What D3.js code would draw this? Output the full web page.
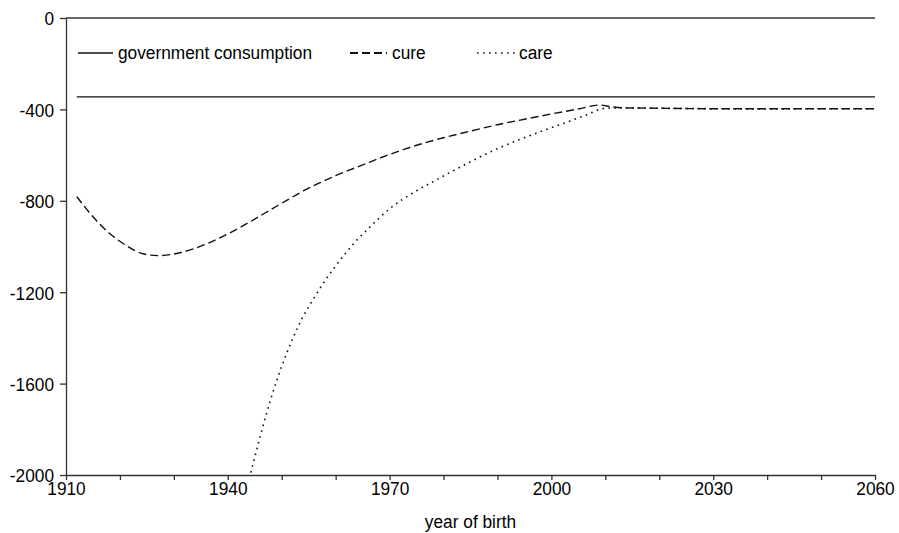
<!DOCTYPE html>
<html>
<head>
<meta charset="utf-8">
<script src="https://cdn.jsdelivr.net/npm/d3@7"></script>
<style>
  body { margin: 0; background: #fff; }
  text { font-family: "Liberation Sans", Arial, sans-serif; fill: #000; }
</style>
</head>
<body>
<div id="chart"></div>
<script>
// series
var govYears = [1912, 2060]
var govValues = [-345, -345]

var cureYears = [1912, 1915, 1918, 1921, 1924, 1927, 1930, 1933, 1936, 1939, 1942, 1945, 1948, 1951, 1954, 1957, 1960, 1965, 1970, 1975, 1980, 1985, 1990, 1995, 2000, 2005, 2009, 2011, 2013, 2020, 2030, 2040, 2050, 2060]
var cureValues = [-782, -870, -941, -993, -1030, -1040, -1033, -1015, -989, -957, -920, -880, -838, -797, -757, -722, -690, -643, -597, -557, -524, -495, -467, -443, -420, -398, -381, -388, -393, -395, -397, -397, -397, -397]

var careYears = [1944, 1946, 1948, 1950, 1952, 1954, 1956, 1958, 1960, 1962, 1964, 1966, 1968, 1970, 1974, 1978, 1982, 1986, 1990, 1994, 1998, 2002, 2006, 2010, 2013, 2020, 2030, 2040, 2050, 2060]
var careValues = [-2015, -1832, -1665, -1525, -1405, -1305, -1225, -1150, -1085, -1025, -970, -923, -877, -835, -770, -717, -666, -617, -572, -533, -497, -463, -429, -395, -393, -395, -397, -398, -397, -397]

var xTicks = [1910, 1920, 1930, 1940, 1950, 1960, 1970, 1980, 1990, 2000, 2010, 2020, 2030, 2040, 2050, 2060]
var xLabels = [1910, 1940, 1970, 2000, 2030, 2060]
var yTicks = [0, -400, -800, -1200, -1600, -2000]

var legendNames = ["government consumption", "cure", "care"]

var W = 899, H = 533
var margin = {top: 18, right: 24, bottom: 58, left: 66}
var width = W - margin.left - margin.right,
    height = H - margin.top - margin.bottom
var fontSize = "19px"

// the original text is a bit narrow for its height
function squeeze(sel) {
  sel.each(function () {
    var x = +this.getAttribute("x") || 0
    d3.select(this).attr("transform",
      "translate(" + x + ",0) scale(0.91,1) translate(" + (-x) + ",0)")
  })
}

var svg = d3.select("#chart").append("svg")
  .attr("width", W).attr("height", H)

var g = svg.append("g")
  .attr("transform", "translate(" + margin.left + "," + margin.top + ")")

var xScale = d3.scaleLinear().domain([1910, 2060]).range([0, width])
var yScale = d3.scaleLinear().domain([-2000, 0]).range([height, 0])

g.append("defs").append("clipPath").attr("id", "clip")
  .append("rect").attr("width", width).attr("height", height)

// x axis at the bottom
var xAxis = g.append("g")
  .attr("transform", "translate(0," + height + ")")
  .call(d3.axisBottom(xScale).tickValues(xTicks).tickSize(5).tickSizeOuter(0)
    .tickFormat(function (d) { return xLabels.indexOf(d) >= 0 ? d : "" }))
xAxis.selectAll("text").style("font-size", fontSize).attr("y", 20).attr("dy", null)
  .call(squeeze)

// y axis
var yAxis = g.append("g")
  .call(d3.axisLeft(yScale).tickValues(yTicks).tickSize(6).tickSizeOuter(0)
    .tickFormat(function (d) { return d }))
yAxis.selectAll("text").style("font-size", fontSize).attr("x", -12).attr("dy", "0.36em")
  .call(squeeze)

g.selectAll(".domain, .tick line").attr("stroke", "#333").attr("stroke-width", 1.3)

// top border line at 0
g.append("line")
  .attr("x1", 0).attr("x2", width)
  .attr("y1", yScale(0)).attr("y2", yScale(0))
  .attr("stroke", "#333").attr("stroke-width", 1.3)

function toPoints(years, values) {
  return years.map(function (y, i) { return [y, values[i]] })
}

var line = d3.line()
  .x(function (d) { return xScale(d[0]) })
  .y(function (d) { return yScale(d[1]) })
  .curve(d3.curveMonotoneX)

var lines = g.append("g").attr("clip-path", "url(#clip)")

lines.append("path")
  .datum(toPoints(govYears, govValues))
  .attr("d", line).attr("fill", "none")
  .attr("stroke", "#111").attr("stroke-width", 1.3)

lines.append("path")
  .datum(toPoints(careYears, careValues))
  .attr("d", line).attr("fill", "none")
  .attr("stroke", "#111").attr("stroke-width", 1.6)
  .attr("stroke-dasharray", "1.6,4.4")

lines.append("path")
  .datum(toPoints(cureYears, cureValues))
  .attr("d", line).attr("fill", "none")
  .attr("stroke", "#111").attr("stroke-width", 1.4)
  .attr("stroke-dasharray", "8,4")

// legend
var legendItems = [
  {name: legendNames[0], x1: 78, x2: 113, tx: 118, dash: null, sw: 1.3},
  {name: legendNames[1], x1: 350, x2: 387, tx: 392, dash: "8,4", sw: 1.8},
  {name: legendNames[2], x1: 477, x2: 517, tx: 519, dash: "1.6,4.4", sw: 1.6}
]
var legend = svg.append("g")
legendItems.forEach(function (d) {
  legend.append("line")
    .attr("x1", d.x1).attr("x2", d.x2).attr("y1", 53).attr("y2", 53)
    .attr("stroke", "#111").attr("stroke-width", d.sw)
    .attr("stroke-dasharray", d.dash)
  legend.append("text")
    .attr("x", d.tx).attr("y", 59.5)
    .style("font-size", fontSize)
    .text(d.name)
    .call(squeeze)
})

// axis title
svg.append("text")
  .attr("x", margin.left + width / 2).attr("y", 528)
  .attr("text-anchor", "middle")
  .style("font-size", fontSize)
  .text("year of birth")
  .call(squeeze)
</script>
</body>
</html>
